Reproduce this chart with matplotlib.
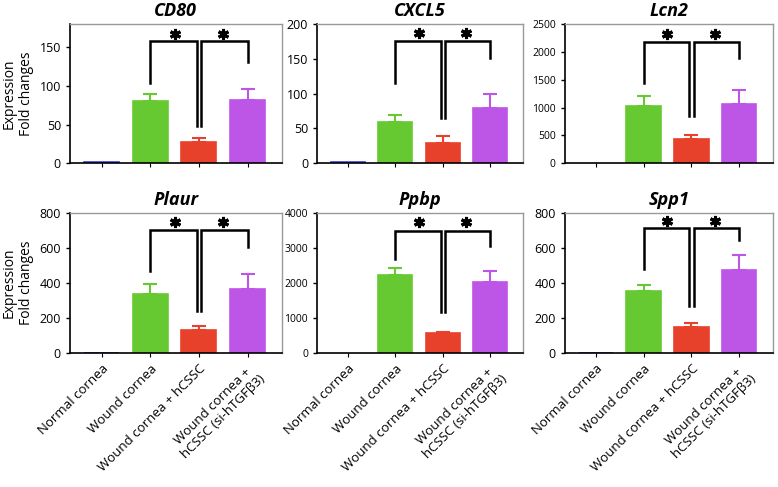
import numpy as np
import matplotlib
matplotlib.use('Agg')
import matplotlib.pyplot as plt

plt.rcParams['font.family'] = ['Open Sans', 'DejaVu Sans']

# Группы и цвета
groups = ['Normal cornea', 'Wound cornea', 'Wound cornea + hCSSC',
          'Wound cornea +\nhCSSC (si-hTGFβ3)']
colors = ['#3b3ddb', '#66c932', '#e8412b', '#bd55e6']

genes = ['CD80', 'CXCL5', 'Lcn2', 'Plaur', 'Ppbp', 'Spp1']

# Средние значения (оценка по рисунку)
cd80_mean = [1, 80, 28, 82]
cxcl5_mean = [1, 59, 29, 79]
lcn2_mean = [0, 1030, 430, 1070]
plaur_mean = [3, 340, 130, 368]
ppbp_mean = [0, 2220, 560, 2020]
spp1_mean = [3, 355, 150, 475]

# Верхние границы ошибок
cd80_err = [0, 10, 5, 14]
cxcl5_err = [0, 11, 10, 21]
lcn2_err = [0, 180, 80, 250]
plaur_err = [0, 55, 25, 84]
ppbp_err = [0, 210, 40, 320]
spp1_err = [0, 35, 20, 85]

# Пределы и шаг оси Y
ylims = [180, 200, 2500, 800, 4000, 800]
ysteps = [50, 50, 500, 200, 1000, 200]

# Скобки значимости: [верх, левая ножка, средняя ножка, правая ножка, звёздочка]
brackets = [
    [158, 104, 48, 131, 167],
    [176, 116, 65, 152, 187],
    [2183, 1447, 850, 1902, 2333],
    [705, 470, 242, 606, 747],
    [3501, 2676, 1170, 3070, 3731],
    [714, 478, 268, 647, 756],
]

means = [cd80_mean, cxcl5_mean, lcn2_mean, plaur_mean, ppbp_mean, spp1_mean]
errs = [cd80_err, cxcl5_err, lcn2_err, plaur_err, ppbp_err, spp1_err]

fig = plt.figure(figsize=(7.78, 4.87), dpi=100)

# Положение осей (в долях фигуры)
lefts = [0.090, 0.4075, 0.726]
widths = [0.272, 0.265, 0.267]
bottoms = [0.665, 0.275]
heights = [0.285, 0.2875]

x = np.arange(len(groups))

for i, gene in enumerate(genes):
    row, col = divmod(i, 3)
    ax = fig.add_axes([lefts[col], bottoms[row], widths[col], heights[row]])

    # Столбцы и ошибки
    lws = [1.2 if m > 0 else 0 for m in means[i]]
    ax.bar(x, means[i], width=0.72, color=colors, edgecolor=colors, linewidth=lws, zorder=2)
    for j in range(len(groups)):
        if errs[i][j] > 0:
            ax.errorbar(x[j], means[i][j], yerr=[[0], [errs[i][j]]], fmt='none',
                        ecolor=colors[j], elinewidth=1.5, capsize=5, capthick=1.5, zorder=1)

    # Скобки значимости
    top, left_leg, mid_leg, right_leg, star_y = brackets[i]
    d = 0.045
    ax.plot([1, 1, 2 - d, 2 - d], [left_leg, top, top, mid_leg], color='black', lw=1.8,
            solid_joinstyle='miter', zorder=3)
    ax.plot([2 + d, 2 + d, 3, 3], [mid_leg, top, top, right_leg], color='black', lw=1.8,
            solid_joinstyle='miter', zorder=3)
    ax.plot([1.5, 2.5], [star_y, star_y], linestyle='none', marker=(6, 2, 0),
            markersize=8, markeredgewidth=2.2, color='black', clip_on=False, zorder=3)

    ax.set_xlim(-0.65, 3.7)
    ax.set_ylim(0, ylims[i])
    ax.set_yticks(np.arange(0, ylims[i] + 1, ysteps[i]))
    ax.set_xticks(x)
    ax.tick_params(axis='y', labelsize=9 if ylims[i] < 1000 else 7.5, length=3, width=1)
    ax.tick_params(axis='x', length=3, width=0.8)

    if row == 1:
        ax.set_xticklabels(groups, rotation=45, ha='right', rotation_mode='anchor',
                           fontsize=9.5, multialignment='center')
    else:
        ax.set_xticklabels([])

    ax.set_title(gene, fontsize=13, fontweight='bold', style='italic', pad=6)

    if col == 0:
        ax.set_ylabel('Expression\nFold changes', fontsize=10)

    for s in ['top', 'right']:
        ax.spines[s].set_color('#999999')
        ax.spines[s].set_linewidth(1)
    for s in ['left', 'bottom']:
        ax.spines[s].set_color('black')
        ax.spines[s].set_linewidth(1.2)

fig.savefig('out.png', dpi=100)
